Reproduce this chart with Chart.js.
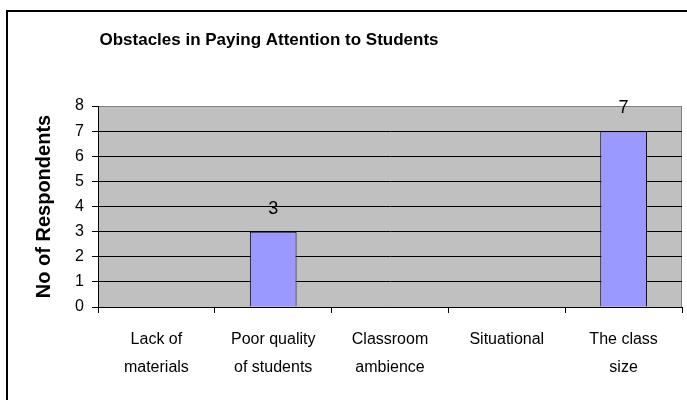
<!DOCTYPE html>
<html>
<head>
<meta charset="utf-8">
<script src="https://cdn.jsdelivr.net/npm/chart.js@4"></script>
<style>
  html, body { margin: 0; padding: 0; background: #fff; }
  canvas { display: block; }
</style>
</head>
<body>
<canvas id="myChart" width="687" height="400"></canvas>
<script>
const ctx = document.getElementById('myChart');

// Chart data
const chartTitle = 'Obstacles in Paying Attention to Students';
const yTitle = 'No of Respondents';
const categories = [
  ['Lack of', 'materials'],
  ['Poor quality', 'of students'],
  ['Classroom', 'ambience'],
  ['Situational'],
  ['The class', 'size'],
];
const respondents = [0, 3, 0, 0, 7];
const yMin = 0;
const yMax = 8;
const yStep = 1;

// Grey plot area, outer frame and the title
const frame = {
  id: 'frame',
  beforeDraw(chart) {
    const c = chart.ctx;
    const a = chart.chartArea;
    c.save();
    c.fillStyle = '#fff';
    c.fillRect(0, 0, chart.width, chart.height);
    c.strokeStyle = '#000';
    c.lineWidth = 2;
    c.strokeRect(7, 11, 2000, 2000);
    c.fillStyle = '#c0c0c0';
    c.fillRect(a.left, a.top, a.right - a.left, a.bottom - a.top);
    c.strokeStyle = '#808080';
    c.lineWidth = 1;
    c.beginPath();
    c.moveTo(a.left, a.top + 0.5);
    c.lineTo(a.right - 0.5, a.top + 0.5);
    c.lineTo(a.right - 0.5, a.bottom);
    c.stroke();
    c.restore();
  },
  afterDraw(chart) {
    const c = chart.ctx;
    c.save();
    c.fillStyle = '#000';
    c.font = 'bold 17px "Liberation Sans", Arial, sans-serif';
    c.textAlign = 'center';
    c.textBaseline = 'alphabetic';
    c.fillText(chartTitle, 269, 45);
    c.restore();
  },
};

// Value labels above the non-zero bars
const valueLabels = {
  id: 'valueLabels',
  afterDatasetsDraw(chart) {
    const c = chart.ctx;
    const meta = chart.getDatasetMeta(0);
    c.save();
    c.fillStyle = '#000';
    c.font = '18px "Liberation Sans", Arial, sans-serif';
    c.textAlign = 'center';
    c.textBaseline = 'alphabetic';
    meta.data.forEach((bar, i) => {
      if (respondents[i] > 0) {
        c.fillText(String(respondents[i]), bar.x, bar.y - 18);
      }
    });
    c.restore();
  },
};

const tickFont = { family: '"Liberation Sans", Arial, sans-serif', size: 16 };

const myChart = new Chart(ctx, {
  type: 'bar',
  data: {
    labels: categories,
    datasets: [
      {
        label: yTitle,
        data: respondents,
        backgroundColor: '#9999ff',
        borderColor: '#000',
        borderWidth: 1,
        barPercentage: 0.4,
        categoryPercentage: 1,
      },
    ],
  },
  options: {
    responsive: false,
    animation: false,
    devicePixelRatio: 1,
    layout: {
      padding: { left: 0, right: 5, top: 106, bottom: 0 },
    },
    plugins: {
      legend: { display: false },
      title: { display: false },
      tooltip: { enabled: false },
    },
    scales: {
      x: {
        offset: true,
        grid: {
          drawOnChartArea: false,
          drawTicks: true,
          tickLength: 6,
          tickColor: '#000',
        },
        border: { display: true, color: '#000', width: 1 },
        ticks: {
          color: '#000',
          font: { ...tickFont, lineHeight: 1.75 },
          padding: 13,
          maxRotation: 0,
          autoSkip: false,
        },
        afterFit(scale) {
          scale.height = 93;
        },
      },
      y: {
        min: yMin,
        max: yMax,
        grid: {
          color: (c) => (c.tick && c.tick.value === yMax ? '#808080' : '#000'),
          tickLength: 6,
          tickColor: '#000',
        },
        border: { display: true, color: '#000', width: 1 },
        ticks: {
          stepSize: yStep,
          color: '#000',
          font: tickFont,
          padding: 8,
        },
        title: {
          display: true,
          text: yTitle,
          color: '#000',
          font: { family: '"Liberation Sans", Arial, sans-serif', size: 20, weight: 'bold' },
          padding: { top: 32, bottom: 0 },
        },
        afterFit(scale) {
          scale.width = 98;
        },
      },
    },
  },
  plugins: [frame, valueLabels],
});
</script>
</body>
</html>
